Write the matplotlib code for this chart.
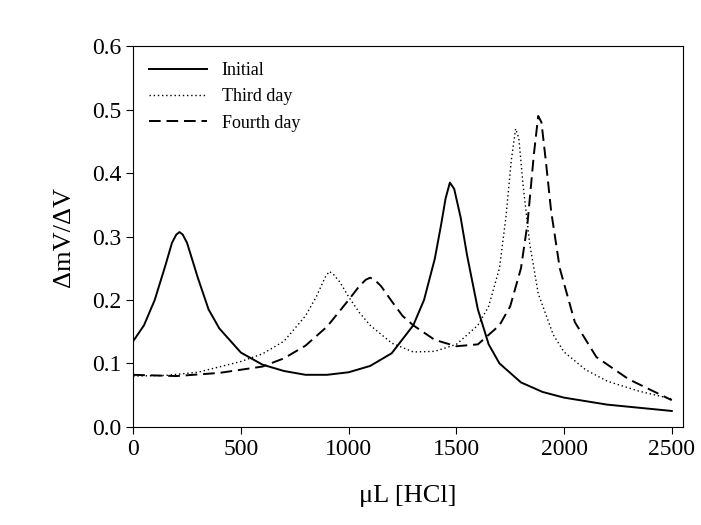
import matplotlib
matplotlib.use('Agg')
import matplotlib.pyplot as plt

plt.rcParams['font.family'] = ['Liberation Serif', 'DejaVu Serif']

# Initial
x_init = [0, 50, 100, 150, 180, 200, 215, 230, 250, 300, 350, 400, 500, 600, 700, 800, 900,
          1000, 1100, 1200, 1300, 1350, 1400, 1430, 1450, 1470, 1490, 1520, 1550, 1600, 1650,
          1700, 1800, 1900, 2000, 2200, 2500]
y_init = [0.135, 0.16, 0.2, 0.255, 0.29, 0.303, 0.307, 0.303, 0.29, 0.235, 0.185, 0.155,
          0.117, 0.098, 0.088, 0.082, 0.082, 0.086, 0.096, 0.116, 0.16, 0.2, 0.265, 0.32,
          0.36, 0.385, 0.375, 0.33, 0.27, 0.185, 0.13, 0.1, 0.07, 0.055, 0.046, 0.035, 0.025]

# Third day
x_third = [0, 150, 300, 500, 600, 700, 800, 850, 890, 910, 930, 960, 1000, 1050, 1100, 1200,
           1300, 1400, 1500, 1600, 1650, 1700, 1730, 1755, 1775, 1790, 1810, 1840, 1880,
           1950, 2000, 2100, 2200, 2350, 2500]
y_third = [0.08, 0.081, 0.086, 0.103, 0.115, 0.135, 0.175, 0.205, 0.235, 0.245, 0.24, 0.228,
           0.205, 0.18, 0.16, 0.132, 0.118, 0.119, 0.13, 0.16, 0.19, 0.25, 0.33, 0.42, 0.47,
           0.455, 0.38, 0.29, 0.21, 0.145, 0.118, 0.09, 0.072, 0.056, 0.044]

# Fourth day
x_fourth = [0, 200, 400, 600, 700, 800, 900, 1000, 1050, 1080, 1100, 1120, 1150, 1200, 1250,
            1300, 1400, 1500, 1600, 1700, 1750, 1800, 1830, 1860, 1880, 1895, 1915, 1940,
            1980, 2050, 2150, 2300, 2500]
y_fourth = [0.082, 0.08, 0.085, 0.095, 0.108, 0.128, 0.158, 0.2, 0.222, 0.232, 0.235, 0.232,
            0.222, 0.198, 0.175, 0.16, 0.137, 0.127, 0.13, 0.16, 0.19, 0.25, 0.32, 0.43, 0.49,
            0.48, 0.42, 0.34, 0.25, 0.165, 0.11, 0.075, 0.042]

fig, ax = plt.subplots(figsize=(7.01, 5.25), dpi=100)
ax.plot(x_init, y_init, color='black', lw=1.4, ls='-', label='Initial')
ax.plot(x_third, y_third, color='black', lw=1.0, ls=(0, (1, 2)), label='Third day')
ax.plot(x_fourth, y_fourth, color='black', lw=1.4, ls=(0, (6, 3)), label='Fourth day')

ax.set_xlim(0, 2551)
ax.set_ylim(0, 0.6)
ax.set_xticks([0, 500, 1000, 1500, 2000, 2500])
ax.set_yticks([0.0, 0.1, 0.2, 0.3, 0.4, 0.5, 0.6])
ax.yaxis.set_major_formatter(matplotlib.ticker.FormatStrFormatter('%.1f'))
ax.tick_params(labelsize=17, direction='out', length=5)
ax.set_xlabel('\u03bcL [HCl]', fontsize=19, labelpad=18)
ax.set_ylabel('\u0394mV/\u0394V', fontsize=19, labelpad=12)
ax.legend(loc='upper left', frameon=False, fontsize=13, handlelength=3.2)

plt.subplots_adjust(left=0.19, right=0.974, top=0.912, bottom=0.187)
plt.savefig('out.png', dpi=100)
